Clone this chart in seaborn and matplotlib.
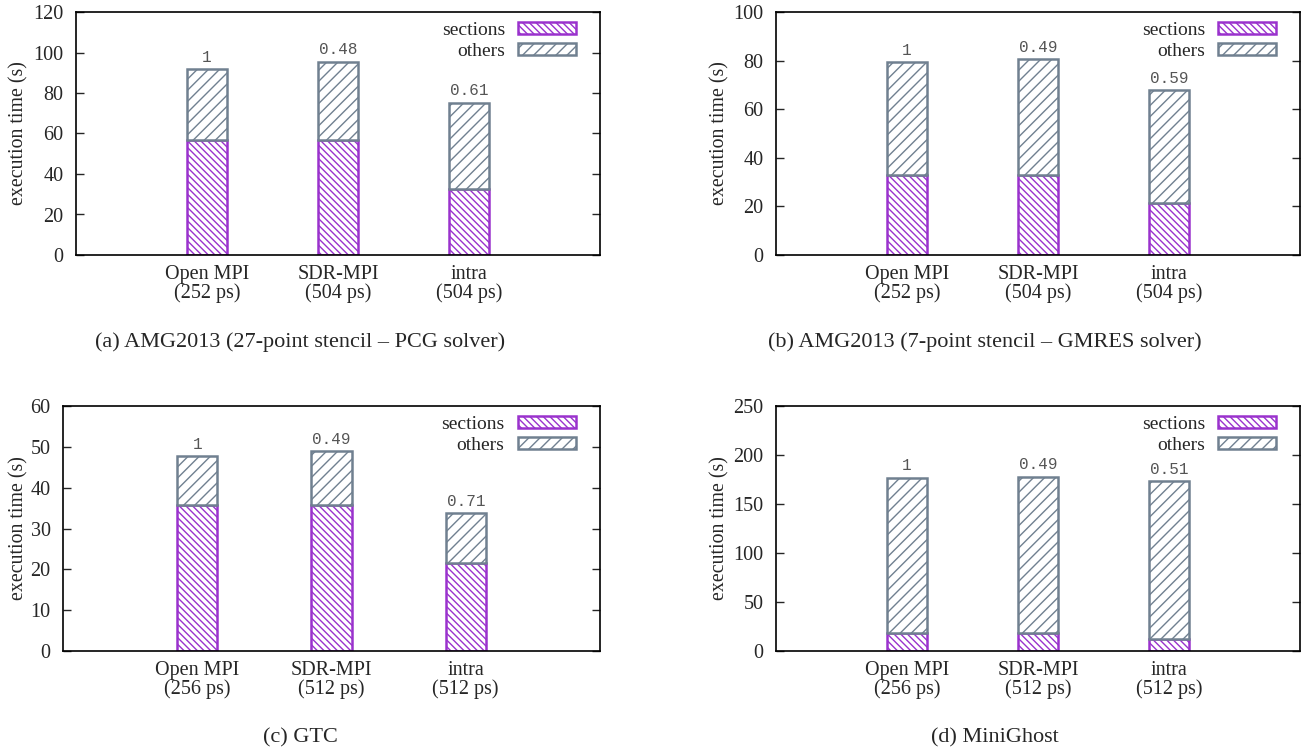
import matplotlib
matplotlib.use("Agg")
import matplotlib.pyplot as plt
import seaborn as sns
import pandas as pd
from matplotlib.patches import Patch

# ---------------- data ----------------
cats_ab = ["Open MPI\n(252 ps)", "SDR-MPI\n(504 ps)", "intra\n(504 ps)"]
cats_cd = ["Open MPI\n(256 ps)", "SDR-MPI\n(512 ps)", "intra\n(512 ps)"]

sections_a = [57.0, 57.0, 32.4]
others_a = [34.7, 38.5, 42.9]
ratio_a = ["1", "0.48", "0.61"]

sections_b = [33.1, 33.1, 21.4]
others_b = [46.3, 47.6, 46.5]
ratio_b = ["1", "0.49", "0.59"]

sections_c = [35.7, 35.7, 21.6]
others_c = [12.1, 13.2, 12.2]
ratio_c = ["1", "0.49", "0.71"]

sections_d = [18.4, 18.4, 11.9]
others_d = [158.5, 159.5, 161.2]
ratio_d = ["1", "0.49", "0.51"]

ylims = [(0, 120, 20), (0, 100, 20), (0, 60, 10), (0, 250, 50)]
captions = ["(a) AMG2013 (27-point stencil \u2013 PCG solver)",
            "(b) AMG2013 (7-point stencil \u2013 GMRES solver)",
            "(c) GTC",
            "(d) MiniGhost"]

# ---------------- style ----------------
sns.set_style("ticks")
plt.rcParams["font.family"] = ["Liberation Serif", "DejaVu Serif"]
plt.rcParams["font.size"] = 14
plt.rcParams["hatch.linewidth"] = 1.0

PURPLE = "#9a32cd"
GRAY = "#708090"
LW = 1.8
H_SEC = "\\" * 5
H_OTH = "/" * 3

W, H = 1305, 753
fig = plt.figure(figsize=(W / 100, H / 100), dpi=100)

# axes boxes in pixels: left, right, top, bottom
boxes = [(76, 600, 12, 255), (776, 1300, 12, 255),
         (63, 600, 406, 651), (776, 1300, 406, 651)]
ylabel_x = [28, 729, 28, 729]
caption_pos = [(300, 342), (985, 342), (300, 738), (995, 738)]

panels = [
    (cats_ab, sections_a, others_a, ratio_a),
    (cats_ab, sections_b, others_b, ratio_b),
    (cats_cd, sections_c, others_c, ratio_c),
    (cats_cd, sections_d, others_d, ratio_d),
]

for i, (cats, sec, oth, rat) in enumerate(panels):
    l, r, t, b = boxes[i]
    ax = fig.add_axes([l / W, 1 - b / H, (r - l) / W, (b - t) / H])
    df = pd.DataFrame({"cat": cats, "sections": sec, "others": oth})
    sns.barplot(data=df, x="cat", y="sections", ax=ax, width=0.3,
                color="white", saturation=1, edgecolor=PURPLE,
                linewidth=LW, hatch=H_SEC, errorbar=None)
    sns.barplot(data=df, x="cat", y="others", ax=ax, width=0.3,
                color="white", saturation=1, edgecolor=GRAY,
                linewidth=LW, hatch=H_OTH, errorbar=None,
                bottom=df["sections"].to_numpy())
    totals = df["sections"] + df["others"]
    for k, (tot, lab) in enumerate(zip(totals, rat)):
        ax.annotate(lab, xy=(k, tot), xytext=(0, 3), textcoords="offset points",
                    ha="center", va="bottom", fontsize=11.5,
                    family=["Liberation Mono", "DejaVu Sans Mono"], color="#555555")
    y0, y1, st = ylims[i]
    ax.set_ylim(y0, y1)
    ax.set_yticks(range(y0, y1 + 1, st))
    ax.set_xlim(-1, 3)
    ax.set_xlabel("")
    ax.set_ylabel("execution time (s)", fontsize=14.3)
    ax.yaxis.set_label_coords(ylabel_x[i] / W, 1 - ((t + b) / 2) / H,
                              transform=fig.transFigure)
    ax.tick_params(axis="y", direction="in", length=6, width=1, left=True,
                   right=True, pad=9, labelsize=14.5)
    ax.tick_params(axis="x", length=0, pad=7, labelsize=14.5)
    for lab in ax.get_xticklabels():
        lab.set_linespacing(1.0)
    for sp in ax.spines.values():
        sp.set_visible(True)
        sp.set_linewidth(1.2)
        sp.set_color("black")
    handles = [Patch(facecolor="white", edgecolor=PURPLE, hatch=H_SEC,
                     linewidth=LW, label="sections"),
               Patch(facecolor="white", edgecolor=GRAY, hatch=H_OTH,
                     linewidth=LW, label="others")]
    ax.legend(handles=handles, loc="upper right", bbox_to_anchor=(0.955, 0.958),
              frameon=False, markerfirst=False, handlelength=3.0,
              handleheight=0.57, labelspacing=0.2, handletextpad=0.67,
              borderaxespad=0, borderpad=0, fontsize=14)
    cx, cy = caption_pos[i]
    fig.text(cx / W, 1 - cy / H, captions[i], ha="center", va="center", fontsize=16)

fig.savefig("out.png", dpi=100)
